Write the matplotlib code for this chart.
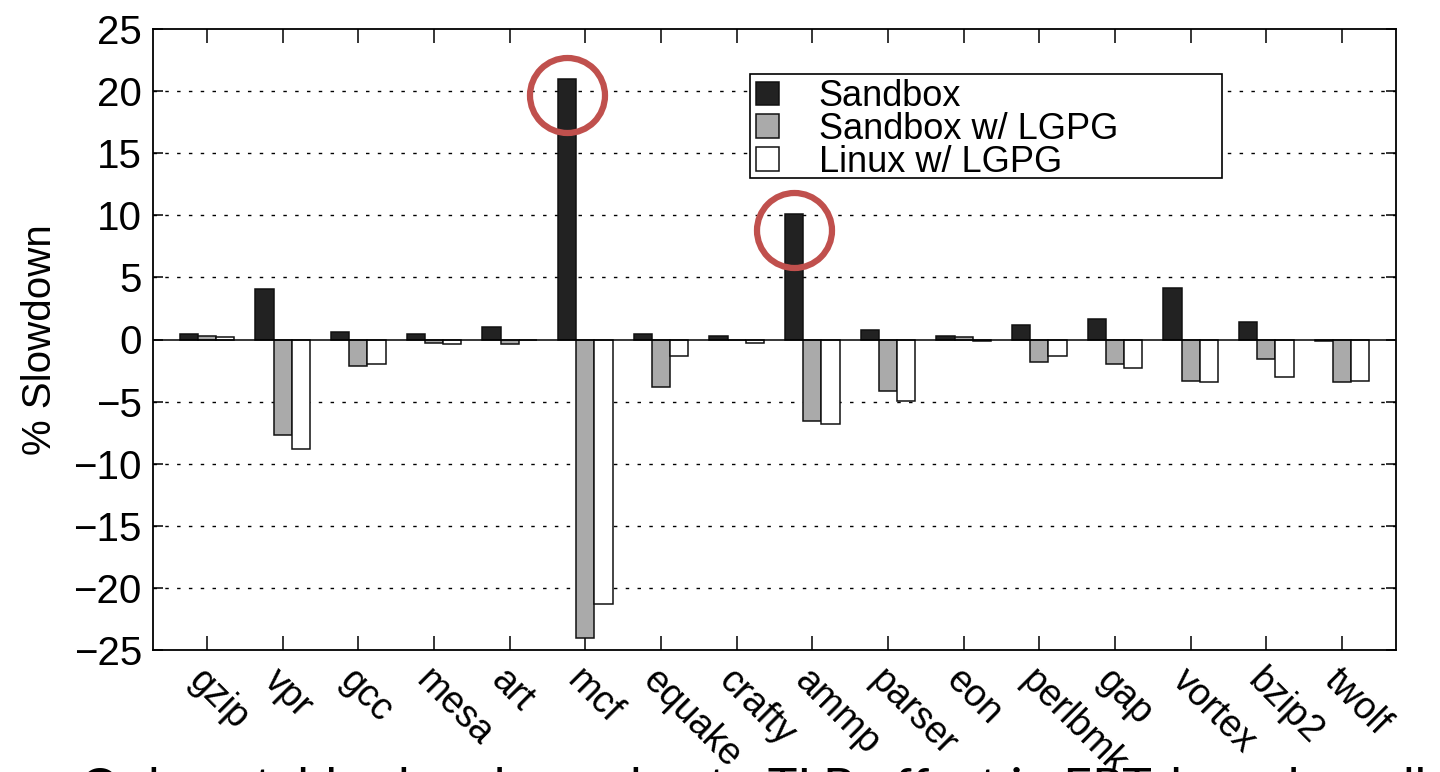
import numpy as np
import matplotlib
matplotlib.use("Agg")
import matplotlib.pyplot as plt
from matplotlib.patches import Rectangle

benchmarks = ["gzip", "vpr", "gcc", "mesa", "art", "mcf", "equake", "crafty",
              "ammp", "parser", "eon", "perlbmk", "gap", "vortex", "bzip2", "twolf"]
sandbox = [0.45, 4.07, 0.6, 0.47, 1.0, 20.95, 0.42, 0.26, 10.13, 0.76, 0.26, 1.14, 1.65, 4.12, 1.43, -0.12]
sandbox_lgpg = [0.25, -7.7, -2.16, -0.26, -0.39, -24.0, -3.85, -0.05, -6.56, -4.15, 0.18, -1.81, -1.95, -3.34, -1.57, -3.45]
linux_lgpg = [0.22, -8.84, -1.95, -0.36, -0.05, -21.3, -1.33, -0.3, -6.8, -4.95, -0.12, -1.33, -2.27, -3.45, -3.0, -3.32]
series_names = ["Sandbox", "Sandbox w/ LGPG", "Linux w/ LGPG"]
series_colors = ["#222222", "#aaaaaa", "#ffffff"]
yticks = [-25, -20, -15, -10, -5, 0, 5, 10, 15, 20, 25]
highlight = ["mcf", "ammp"]
caption = "Only notable slowdown due to TLB effect in EPT-based sandbox"

plt.rcParams['font.family'] = ['Liberation Sans', 'DejaVu Sans']

fig = plt.figure(figsize=(14.4, 7.72), dpi=100)
L, R, T, B = 153, 1396, 29, 650
ax = fig.add_axes([L / 1440, (772 - B) / 772, (R - L) / 1440, (B - T) / 772])

x = np.arange(len(benchmarks))
w = 0.24
handles = []
for i, (vals, name, col) in enumerate(zip([sandbox, sandbox_lgpg, linux_lgpg], series_names, series_colors)):
    h = ax.bar(x + (i - 1) * w, vals, w, color=col, edgecolor="#111111", linewidth=1.1,
               label=name, zorder=3)
    handles.append(h)

ax.set_xlim(-0.713, len(benchmarks) - 1 + 0.713)
ax.set_ylim(-25, 25)
ax.set_yticks(yticks)
ax.set_xticks(x)
ax.set_xticklabels(benchmarks, rotation=-45, ha="left", va="top",
                   rotation_mode="anchor", fontsize=27)
ax.tick_params(axis="x", direction="in", length=10, width=1.1, top=True, pad=9)
ax.tick_params(axis="y", direction="in", length=7, width=1.1, right=True, labelsize=29, pad=8)

for yv in yticks:
    if yv not in (-25, 0, 25):
        ax.axhline(yv, color="black", linewidth=1.0, linestyle=(0, (2.5, 6)), zorder=1)
ax.axhline(0, color="black", linewidth=1.1, zorder=4)

for s in ax.spines.values():
    s.set_linewidth(1.3)

ax.set_ylabel("% Slowdown", fontsize=29, labelpad=10)

# legend with custom frame
ax.add_patch(Rectangle((0.480, 0.760), 0.380, 0.1675, transform=ax.transAxes,
                       facecolor="white", edgecolor="black", linewidth=1.2, zorder=5))
leg = ax.legend(handles=handles, loc="upper left", bbox_to_anchor=(0.482, 0.925),
                frameon=False, fontsize=26, handlelength=0.64, handleheight=0.64,
                handletextpad=1.1, labelspacing=-0.06, borderpad=0.1, borderaxespad=0)
leg.set_zorder(6)

# red highlight circles
for name in highlight:
    k = benchmarks.index(name)
    ax.plot([x[k] - w], [sandbox[k] - 1.3], marker="o", markersize=54,
            markerfacecolor="none", markeredgecolor="#C0504D", markeredgewidth=4.5,
            clip_on=False, zorder=7)

fig.text(80 / 1440, -0.042, caption, fontsize=36, family=["Lato", "DejaVu Sans"],
         ha="left", va="baseline")

fig.savefig("out.png", dpi=100)
